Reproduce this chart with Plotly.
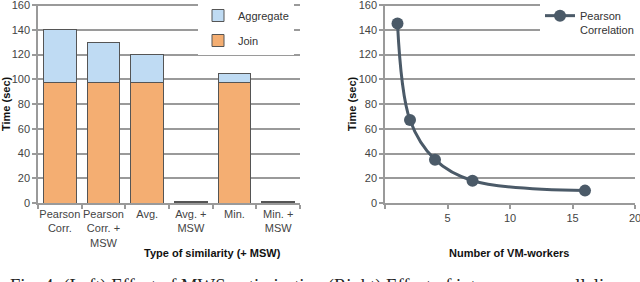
import plotly.graph_objects as go

# ---- data ----
categories = ["Pearson<br>Corr.", "Pearson<br>Corr. +<br>MSW", "Avg.", "Avg. +<br>MSW", "Min.", "Min. +<br>MSW"]
join_values = [97, 97, 97, 0.6, 97, 0.6]
aggregate_values = [43, 33, 23, 0.6, 8, 0.6]

workers = [1, 2, 4, 7, 16]
pearson_times = [145, 67, 35, 18, 10]

y_ticks = [0, 20, 40, 60, 80, 100, 120, 140, 160]
x_ticks_right = [0, 5, 10, 15, 20]
x_ticktext_right = ["", "5", "10", "15", "20"]

caption = "Fig. 4: (Left) Effect of MWS optimisation (Right) Effect of intra-query parallelism."

W, H = 640, 282
FONT = "Liberation Sans"
GRID = "#9a9a9a"
TICKC = "#444444"

def px_x(p):
    return p / W

def px_y(p):
    return (H - p) / H

fig = go.Figure()

fig.add_trace(go.Bar(
    x=categories, y=join_values, name="Join",
    marker=dict(color="#F4AE72", line=dict(color="#555555", width=1)),
    xaxis="x", yaxis="y", legend="legend", legendgroup="j", legendrank=2,
))
fig.add_trace(go.Bar(
    x=categories, y=aggregate_values, name="Aggregate",
    marker=dict(color="#BFDBF3", line=dict(color="#555555", width=1)),
    xaxis="x", yaxis="y", legend="legend", legendgroup="a", legendrank=1,
))

fig.add_trace(go.Scatter(
    x=workers, y=pearson_times, name="Pearson<br>Correlation",
    mode="lines+markers",
    line=dict(color="#4B5A68", width=3, shape="spline", smoothing=1),
    marker=dict(color="#4B5A68", size=12),
    xaxis="x2", yaxis="y2", legend="legend2",
))

# 160 maps to pixel 5, 0 maps to pixel 203; range extended to 161 so the top grid line shows
ppu = (203 - 5) / 160.0
ydom = [px_y(203), px_y(203 - 161 * ppu)]

axis_common = dict(
    showline=True, linecolor=GRID, linewidth=1.5,
    ticks="outside", ticklen=4, tickcolor=GRID, tickwidth=1.5,
    tickfont=dict(family=FONT, size=11, color=TICKC),
    zeroline=False, tickangle=0, ticklabeloverflow="allow",
)

fig.update_layout(
    width=W, height=H,
    margin=dict(l=0, r=0, t=0, b=0, autoexpand=False),
    paper_bgcolor="white", plot_bgcolor="white",
    barmode="stack", bargap=0.25,
    showlegend=True,
    xaxis=dict(domain=[px_x(38), px_x(300)], anchor="y",
               type="category", range=[-0.5, 5.5],
               tickson="boundaries", showgrid=False, **axis_common),
    yaxis=dict(domain=ydom, anchor="x", range=[0, 161],
               tickvals=y_ticks, showgrid=True, gridcolor=GRID, gridwidth=1.5,
               **axis_common),
    xaxis2=dict(domain=[px_x(385), px_x(635)], anchor="y2",
                range=[0, 20], tickvals=x_ticks_right, ticktext=x_ticktext_right,
                showgrid=False, **axis_common),
    yaxis2=dict(domain=ydom, anchor="x2", range=[0, 161],
                tickvals=y_ticks, showgrid=True, gridcolor=GRID, gridwidth=1.5,
                **axis_common),
    legend=dict(x=px_x(198), y=px_y(1), xanchor="left", yanchor="top",
                bgcolor="white", tracegroupgap=6,
                font=dict(family=FONT, size=11, color="#333333")),
    legend2=dict(x=px_x(540), y=px_y(2), xanchor="left", yanchor="top",
                 bgcolor="white", valign="top",
                 font=dict(family=FONT, size=11, color="#333333")),
    annotations=[
        dict(text="<b>Type of similarity (+ MSW)</b>", x=px_x(212), y=px_y(253),
             xref="paper", yref="paper", showarrow=False, xanchor="center", yanchor="middle",
             font=dict(family=FONT, size=11, color="#111111")),
        dict(text="<b>Number of VM-workers</b>", x=px_x(509), y=px_y(253),
             xref="paper", yref="paper", showarrow=False, xanchor="center", yanchor="middle",
             font=dict(family=FONT, size=11, color="#111111")),
        dict(text="<b>Time (sec)</b>", x=px_x(6), y=px_y(104), textangle=-90,
             xref="paper", yref="paper", showarrow=False, xanchor="center", yanchor="middle",
             font=dict(family=FONT, size=11, color="#111111")),
        dict(text="<b>Time (sec)</b>", x=px_x(352), y=px_y(104), textangle=-90,
             xref="paper", yref="paper", showarrow=False, xanchor="center", yanchor="middle",
             font=dict(family=FONT, size=11, color="#111111")),
        dict(text=caption, x=px_x(320.5), y=px_y(273),
             xref="paper", yref="paper", showarrow=False, xanchor="center", yanchor="top",
             font=dict(family="Liberation Serif", size=18.6, color="#222222")),
    ],
)

fig.write_html("out.html", config={"displayModeBar": False},
               post_script="document.body.style.margin='0';")
